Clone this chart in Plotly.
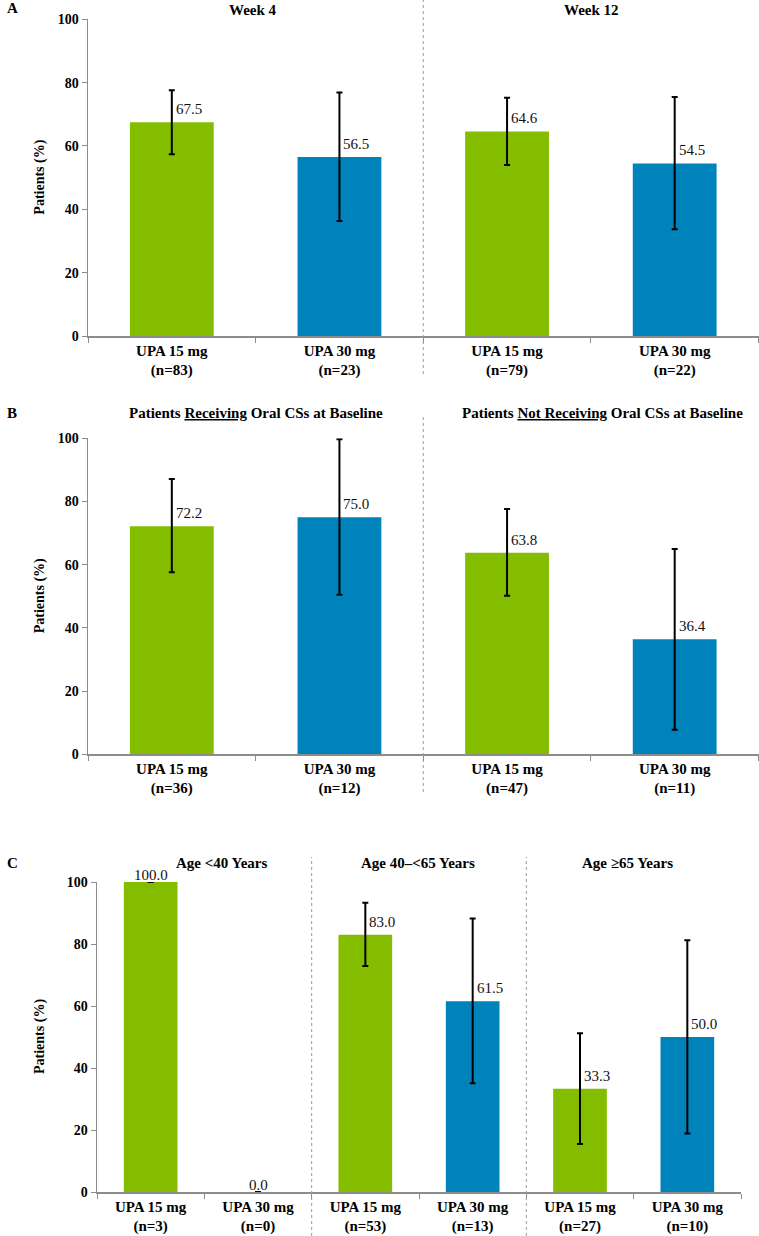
import plotly.graph_objects as go

W, H = 759, 1236
OFF = 0  # body margin removed via post_script
FONT = "Liberation Serif, 'Times New Roman', Times, 'DejaVu Serif', serif"
GREEN = "#84BD00"
BLUE = "#0082BA"
AXIS_GREY = "#8C8C8C"

# ---------------- data ----------------
cats_a = ["UPA 15 mg<br>(n=83)", "UPA 30 mg<br>(n=23)", "UPA 15 mg<br>(n=79)", "UPA 30 mg<br>(n=22)"]
vals_a = [67.5, 56.5, 64.6, 54.5]
low_a = [57.4, 36.3, 54.0, 33.7]
up_a = [77.6, 76.9, 75.2, 75.5]
titles_a = ["Week 4", "Week 12"]

cats_b = ["UPA 15 mg<br>(n=36)", "UPA 30 mg<br>(n=12)", "UPA 15 mg<br>(n=47)", "UPA 30 mg<br>(n=11)"]
vals_b = [72.2, 75.0, 63.8, 36.4]
low_b = [57.6, 50.5, 50.2, 7.8]
up_b = [87.1, 99.7, 77.6, 65.0]
titles_b = ["Patients <u>Receiving</u> Oral CSs at Baseline",
            "Patients <u>Not Receiving</u> Oral CSs at Baseline"]

cats_c = ["UPA 15 mg<br>(n=3)", "UPA 30 mg<br>(n=0)", "UPA 15 mg<br>(n=53)",
          "UPA 30 mg<br>(n=13)", "UPA 15 mg<br>(n=27)", "UPA 30 mg<br>(n=10)"]
vals_c = [100.0, 0.0, 83.0, 61.5, 33.3, 50.0]
low_c = [None, None, 72.9, 35.1, 15.5, 18.9]
up_c = [None, None, 93.3, 88.2, 51.2, 81.2]
titles_c = ["Age <40 Years", "Age 40\u2013<65 Years", "Age \u226565 Years"]

y_ticks = [0, 20, 40, 60, 80, 100]
y_title = "Patients (%)"
panel_letters = ["A", "B", "C"]

colors_4 = [GREEN, BLUE, GREEN, BLUE]
colors_6 = [GREEN, BLUE, GREEN, BLUE, GREEN, BLUE]

# ---------------- layout helpers (screen pixel -> paper) ----------------
def px_x(p):
    return (p - OFF) / W

def px_y(p):
    return 1 - (p - OFF) / H

panels = [
    dict(cats=cats_a, vals=vals_a, low=low_a, up=up_a, colors=colors_4,
         xd=(88, 758.5), y0=336, y100=19.3),
    dict(cats=cats_b, vals=vals_b, low=low_b, up=up_b, colors=colors_4,
         xd=(88, 758.5), y0=754.3, y100=438.3),
    dict(cats=cats_c, vals=vals_c, low=low_c, up=up_c, colors=colors_6,
         xd=(97, 741), y0=1192, y100=882),
]

BOLD = dict(family=FONT, color="black", weight="bold")

fig = go.Figure()
annotations = []
shapes = []

def note(x, y, text, size, xanchor="center", **kw):
    d = dict(x=px_x(x), y=px_y(y), xref="paper", yref="paper", text=text,
             showarrow=False, xanchor=xanchor, yanchor="middle",
             font=dict(size=size, **BOLD))
    d.update(kw)
    annotations.append(d)

for i, p in enumerate(panels):
    sfx = "" if i == 0 else str(i + 1)
    xa, ya = "x" + sfx, "y" + sfx
    plus = [None if (u is None) else round(u - v, 2) for u, v in zip(p["up"], p["vals"])]
    minus = [None if (l is None) else round(v - l, 2) for l, v in zip(p["low"], p["vals"])]
    fig.add_trace(go.Bar(
        x=p["cats"], y=p["vals"], xaxis=xa, yaxis=ya,
        marker=dict(color=p["colors"], line=dict(width=0)),
        width=0.5, showlegend=False, cliponaxis=False,
        error_y=dict(type="data", symmetric=False, array=plus, arrayminus=minus,
                     color="black", thickness=2, width=3),
        hoverinfo="skip",
    ))
    n = len(p["cats"])
    fig.update_layout(**{
        "xaxis" + sfx: dict(
            domain=[px_x(p["xd"][0]), px_x(p["xd"][1])], anchor=ya, automargin=False,
            type="category", categoryorder="array", categoryarray=p["cats"],
            range=[-0.5, n - 0.5], showline=True, linecolor=AXIS_GREY, linewidth=1.5,
            ticks="outside", tickson="boundaries", ticklen=5, tickcolor=AXIS_GREY,
            tickwidth=1, showgrid=False, zeroline=False,
            tickfont=dict(size=15, **BOLD),
        ),
        "yaxis" + sfx: dict(
            domain=[px_y(p["y0"]), px_y(p["y100"])], anchor=xa, automargin=False,
            range=[0, 100], tickvals=y_ticks, showline=True, linecolor=AXIS_GREY,
            linewidth=1.5, ticks="outside", ticklen=5, tickcolor=AXIS_GREY,
            showgrid=False, zeroline=False,
            tickfont=dict(size=14, **BOLD),
        ),
    })
    for c, v, u in zip(p["cats"], p["vals"], p["up"]):
        if u is None:
            annotations.append(dict(x=c, y=v, xref=xa, yref=ya, text=f"{v:.1f}",
                                    showarrow=False, xanchor="center", yanchor="bottom",
                                    yshift=-3, font=dict(family=FONT, size=15, color="#111")))
        else:
            annotations.append(dict(x=c, y=v, xref=xa, yref=ya, text=f"{v:.1f}",
                                    showarrow=False, xanchor="left", yanchor="middle",
                                    xshift=2, yshift=13, font=dict(family=FONT, size=15, color="#111")))
    note(40, (p["y0"] + p["y100"]) / 2, y_title, 14, textangle=-90)

for letter, yy in zip(panel_letters, [8, 413, 863]):
    note(12, yy, letter, 15)

for t, xx in zip(titles_a, [253, 591]):
    note(xx, 10, t, 15)
for t, xx in zip(titles_b, [256, 602]):
    note(xx, 413, t, 15)
for t, xx in zip(titles_c, [221, 418, 627]):
    note(xx, 863, t, 15)

div_line = dict(color="#9A9A9A", width=1, dash="dot")
shapes.append(dict(type="line", xref="x", yref="paper", x0=1.5, x1=1.5,
                   y0=px_y(374), y1=px_y(0), line=div_line))
shapes.append(dict(type="line", xref="x2", yref="paper", x0=1.5, x1=1.5,
                   y0=px_y(792), y1=px_y(416), line=div_line))
for xv in [1.5, 3.5]:
    shapes.append(dict(type="line", xref="x3", yref="paper", x0=xv, x1=xv,
                       y0=px_y(1236), y1=px_y(857), line=div_line))

fig.update_layout(
    template="none",
    width=W, height=H, margin=dict(l=0, r=0, t=0, b=0, pad=0, autoexpand=False),
    paper_bgcolor="white", plot_bgcolor="white",
    annotations=annotations, shapes=shapes, showlegend=False,
    font=dict(family=FONT, color="black"),
)

fig.write_html("out.html",
               config={"displayModeBar": False, "staticPlot": True},
               post_script="document.body.style.margin='0px';document.body.style.overflow='hidden';")
